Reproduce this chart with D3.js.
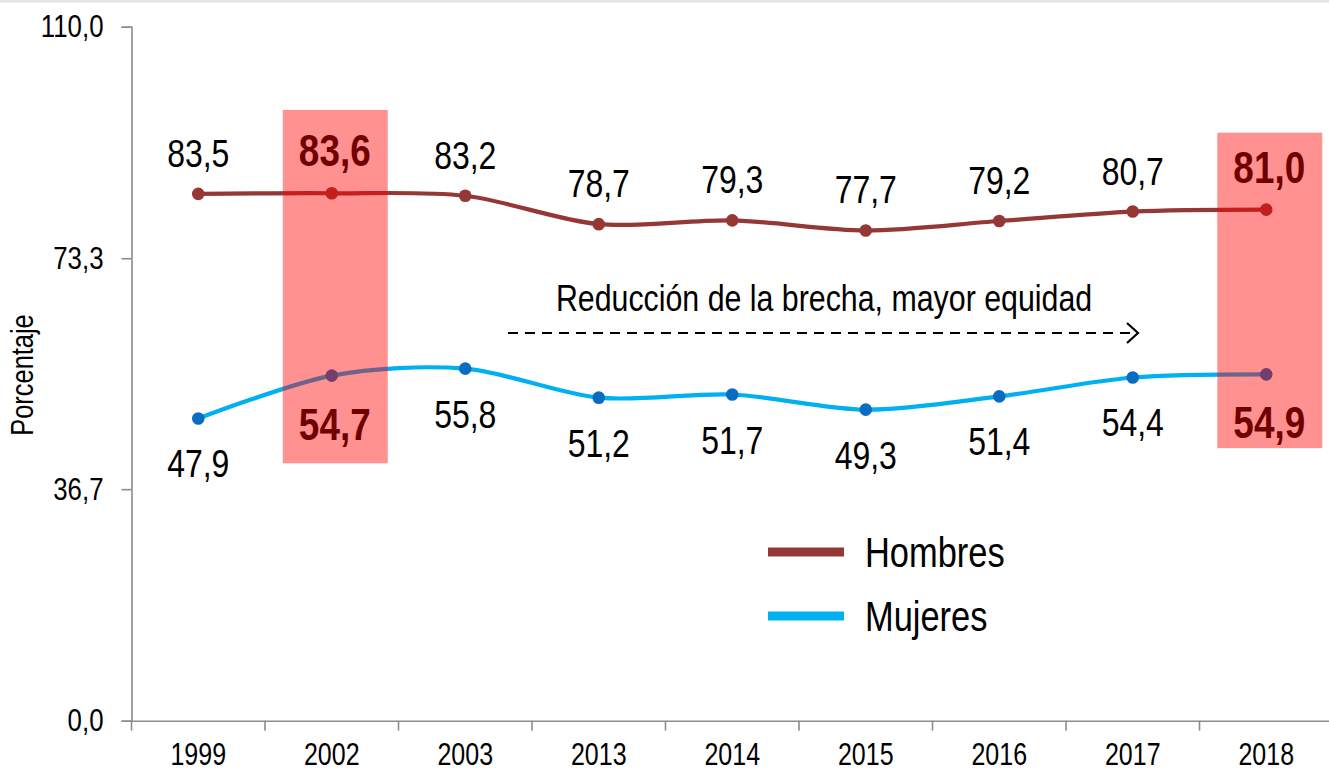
<!DOCTYPE html>
<html lang="es">
<head>
<meta charset="utf-8">
<title>Hombres y Mujeres - Porcentaje</title>
<script src="https://d3js.org/d3.v7.min.js"></script>
<style>
  html, body { margin: 0; padding: 0; background: #fff; }
  svg { display: block; font-family: "Liberation Sans Narrow", "Arial Narrow", "Liberation Sans", Arial, sans-serif; }
</style>
</head>
<body>
<div id="chart"></div>
<script>
// Datos
var years = ["1999", "2002", "2003", "2013", "2014", "2015", "2016", "2017", "2018"];
var hombres = [83.5, 83.6, 83.2, 78.7, 79.3, 77.7, 79.2, 80.7, 81.0];
var mujeres = [47.9, 54.7, 55.8, 51.2, 51.7, 49.3, 51.4, 54.4, 54.9];
var yTicks = [0, 36.7, 73.3, 110];
var boldYears = ["2002", "2018"];
// zonas resaltadas: año, valor superior, valor inferior
var highlightYears = ["2002", "2018"];
var highlightTop = [96.8, 93.2];
var highlightBottom = [40.8, 43.2];
var seriesNames = ["Hombres", "Mujeres"];
var annotation = "Reducción de la brecha, mayor equidad";

var width = 1329, height = 773;
var margin = {left: 131.5, right: -4, top: 26.7, bottom: 52.3};
// condensar el texto (fuente tipo "narrow")
var SX = 0.82;

var svg = d3.select("#chart").append("svg")
    .attr("width", width)
    .attr("height", height);

// borde superior gris
svg.append("rect").attr("x", 0).attr("y", 0).attr("width", width).attr("height", 2.5).attr("fill", "#e4e4e4");

var x = d3.scaleBand().domain(years).range([margin.left, width - margin.right]);
var y = d3.scaleLinear().domain([0, 110]).range([height - margin.bottom, margin.top]);
var cx = d => x(d) + x.bandwidth() / 2;
var fmt = v => d3.format(".1f")(v).replace(".", ",");

// texto condensado en (px, py)
function narrow(sel, px, py) {
  return sel.attr("x", 0).attr("y", 0)
      .attr("transform", (d, i) => `translate(${px(d, i)},${py(d, i)}) scale(${SX},1)`);
}

// Ejes
var axisColor = "#8c8c8c";
var yAxis = svg.append("g")
    .attr("transform", `translate(${margin.left},0)`)
    .call(d3.axisLeft(y).tickValues(yTicks).tickFormat(fmt).tickSize(10).tickPadding(18));
yAxis.select(".domain").attr("stroke", axisColor).attr("stroke-width", 1.6);
yAxis.selectAll(".tick line").attr("stroke", axisColor).attr("stroke-width", 1.6);
yAxis.selectAll(".tick text").attr("font-size", 31.5).attr("fill", "#000").attr("font-family", null)
    .attr("x", -28 / SX).attr("transform", `scale(${SX},1)`);

var xAxis = svg.append("g")
    .attr("transform", `translate(0,${height - margin.bottom})`)
    .call(d3.axisBottom(x).tickSize(0).tickPadding(23));
xAxis.select(".domain").attr("stroke", axisColor).attr("stroke-width", 1.6);
xAxis.selectAll(".tick text").attr("font-size", 30.5).attr("fill", "#000").attr("font-family", null)
    .attr("transform", `scale(${SX},1)`);
// marcas entre categorías
xAxis.selectAll(".sep").data(years).enter().append("line")
    .attr("class", "sep")
    .attr("x1", d => x(d)).attr("x2", d => x(d))
    .attr("y1", 0).attr("y2", 10)
    .attr("stroke", axisColor).attr("stroke-width", 1.6);

// Título del eje
svg.append("text")
    .attr("transform", `translate(33,375) rotate(-90) scale(${SX},1)`)
    .attr("text-anchor", "middle")
    .attr("font-size", 31)
    .text("Porcentaje");

// Líneas
var line = d3.line()
    .x((d, i) => cx(years[i]))
    .y(d => y(d))
    .curve(d3.curveCardinal.tension(0.1));

var colH = "#953735", colM = "#00b0f0", colMDot = "#0a6cc0";

svg.append("path").datum(hombres).attr("d", line)
    .attr("fill", "none").attr("stroke", colH).attr("stroke-width", 4.2);
svg.append("path").datum(mujeres).attr("d", line)
    .attr("fill", "none").attr("stroke", colM).attr("stroke-width", 4.2);

svg.selectAll(".dotH").data(hombres).enter().append("circle")
    .attr("cx", (d, i) => cx(years[i])).attr("cy", d => y(d)).attr("r", 6.3).attr("fill", colH);
svg.selectAll(".dotM").data(mujeres).enter().append("circle")
    .attr("cx", (d, i) => cx(years[i])).attr("cy", d => y(d)).attr("r", 6.3).attr("fill", colMDot);

// Zonas resaltadas (encima de las líneas, semitransparentes)
svg.selectAll(".hl").data(highlightYears).enter().append("rect")
    .attr("x", d => cx(d) - 49)
    .attr("width", 105)
    .attr("y", (d, i) => y(highlightTop[i]))
    .attr("height", (d, i) => y(highlightBottom[i]) - y(highlightTop[i]))
    .attr("fill", "#ff0000").attr("fill-opacity", 0.43);

// Etiquetas de datos
function labels(values, dy, dyBold) {
  var isBold = (i) => boldYears.includes(years[i]);
  var t = svg.selectAll(null).data(values).enter().append("text")
      .attr("text-anchor", "middle")
      .attr("font-size", (d, i) => isBold(i) ? 45 : 39)
      .attr("font-weight", (d, i) => isBold(i) ? "bold" : "normal")
      .attr("fill", (d, i) => isBold(i) ? "#700000" : "#000")
      .text(fmt);
  narrow(t, (d, i) => cx(years[i]) + (isBold(i) ? 3 : 0), (d, i) => y(d) + (isBold(i) ? dyBold : dy));
}
labels(hombres, -27, -27);
labels(mujeres, 59, 64);

// Anotación con flecha discontinua
svg.append("text")
    .attr("transform", `translate(824,311) scale(${SX},1)`)
    .attr("text-anchor", "middle")
    .attr("font-size", 37)
    .text(annotation);
svg.append("line")
    .attr("x1", 508).attr("x2", 1136).attr("y1", 333).attr("y2", 333)
    .attr("stroke", "#000").attr("stroke-width", 2).attr("stroke-dasharray", "10,7");
svg.append("path")
    .attr("d", "M1127,323 L1138,333 L1127,343")
    .attr("fill", "none").attr("stroke", "#000").attr("stroke-width", 2.2);

// Leyenda
var legend = svg.append("g").attr("transform", "translate(768,552)");
[colH, colM].forEach(function (c, i) {
  legend.append("rect").attr("x", 0).attr("y", i * 64 - 4.5).attr("width", 76).attr("height", 9).attr("fill", c);
  legend.append("text").attr("transform", `translate(97,${i * 64 + 15}) scale(${SX},1)`)
      .attr("font-size", 42).text(seriesNames[i]);
});
</script>
</body>
</html>
